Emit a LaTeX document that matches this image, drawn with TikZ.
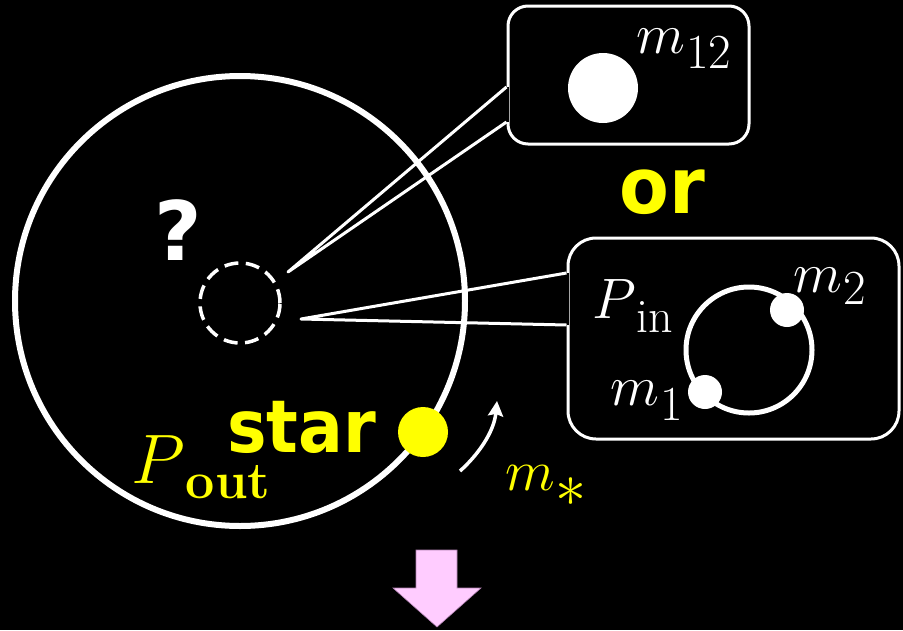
\RequirePackage{fix-cm}
\documentclass[tikz,border=0pt]{standalone}
\usepackage{amsmath,amssymb}
\usepackage{fontspec}
\setsansfont{DejaVu Sans}
\usepackage{xcolor}
\usepackage{tikz}
\usetikzlibrary{arrows.meta,positioning,calc}
\definecolor{hilite}{HTML}{FFFF00}
\definecolor{downarr}{HTML}{FFCCFF}
\definecolor{downedge}{HTML}{B080B0}
% subscript set at its own size, lowered by #2
\newcommand\subtxt[3]{\kern1pt\raisebox{-#2}{\fontsize{#1}{#1}\selectfont #3}}
\tikzset{
  ring/.style  = {circle, draw=white, line width=6pt, inner sep=0pt},
  hole/.style  = {circle, draw=white, line width=3.5pt, inner sep=0pt,
                  dash pattern=on 14pt off 7.5pt},
  callout/.style = {draw=white, line width=3pt, rounded corners=#1},
  callout/.default = 20pt,
  ptr/.style   = {draw=white, line width=3pt, line join=round},
  gap/.style   = {draw=black, line width=5.5pt},
  mass/.style  = {circle, fill=#1, inner sep=0pt},
  mass/.default = white,
  mlbl/.style  = {inner sep=0pt, anchor=base west, text=white,
                  font=\fontsize{57}{60}\selectfont},
  word/.style  = {inner sep=0pt, anchor=base, text=hilite,
                  font=\sffamily\bfseries\fontsize{73}{80}\selectfont},
  turn/.style  = {draw=white, line width=3.5pt,
                  -{Stealth[length=15pt,width=15pt,inset=2pt]}},
}
\begin{document}
\begin{tikzpicture}[x=1pt,y=-1pt]
  \fill[black] (0,0) rectangle (903,630);
  \useasboundingbox (0,0) rectangle (903,630);

  % outer orbit and the unknown inner part
  \node[ring, minimum size=450pt] (disk) at (240,301) {};
  \node[hole, minimum size=80pt] (inner) at (240,303) {};
  \node[word, text=white, font=\sffamily\bfseries\fontsize{82}{86}\selectfont]
    (qm) at (178,260) {?};

  % single inner mass
  \node[callout, minimum width=241pt, minimum height=138pt] (single) at (628.5,75) {};
  \node[mass, minimum size=70pt] (m12) at (603,88) {};
  \node[mlbl] (m12lbl) at (636,53) {$m$\subtxt{49}{15pt}{12}};
  \coordinate (tipA) at (288,272);
  \coordinate (a1) at (single.west |- 0,87);
  \coordinate (a2) at (single.west |- 0,122);
  \draw[gap] (a1) -- (a2);
  \draw[ptr] (a1) -- (tipA) -- (a2);

  \node[word, font=\sffamily\bfseries\fontsize{78}{82}\selectfont] (or) at (662.5,213)
    {\scalebox{0.93}[1]{or}};

  % inner binary
  \node[callout=28pt, minimum width=331pt, minimum height=201pt] (binary) at (733.5,338.5) {};
  \node[circle, draw=white, line width=5pt, minimum size=126pt, inner sep=0pt] (orbit) at (749,350) {};
  \node[mass, minimum size=34pt] (m2) at (787,310) {};
  \node[mass, minimum size=34pt] (m1) at (705,392) {};
  \node[mlbl] (pin) at (592,318) {$P$\subtxt{48}{14pt}{in}};
  \node[mlbl] (m2lbl) at (793,292) {$m$\subtxt{49}{12pt}{2}};
  \node[mlbl] (m1lbl) at (610,405) {$m$\subtxt{49}{15pt}{1}};
  \coordinate (tipB) at (301,319);
  \coordinate (b1) at (binary.west |- 0,273);
  \coordinate (b2) at (binary.west |- 0,325);
  \draw[gap] (b1) -- (b2);
  \draw[ptr] (b1) -- (tipB) -- (b2);

  % outer star
  \node[mass=hilite, minimum size=50pt] (star) at (423,432) {};
  \node[word] (starlbl) at (301.5,452) {\scalebox{0.91}[1]{star}};
  \node[mlbl, text=hilite, font=\fontsize{70}{74}\selectfont] (pout) at (131,483)
    {$P$\subtxt{52}{15pt}{\bfseries out}};
  \node[mlbl, text=hilite, font=\fontsize{58}{62}\selectfont] (mstar) at (505,490)
    {$m$\subtxt{62}{16pt}{$\ast$}};
  \coordinate (t0) at (460,471);
  \coordinate (t1) at (497,401);
  \draw[turn] (t0) .. controls (478,455) and (494,432) .. (t1);

  % next step
  \draw[fill=downarr, draw=downedge, line width=0.6pt]
    (416,550) -- (457,550) -- (457,588) -- (481,588) -- (437,627)
    -- (393,588) -- (416,588) -- cycle;
\end{tikzpicture}
\end{document}
